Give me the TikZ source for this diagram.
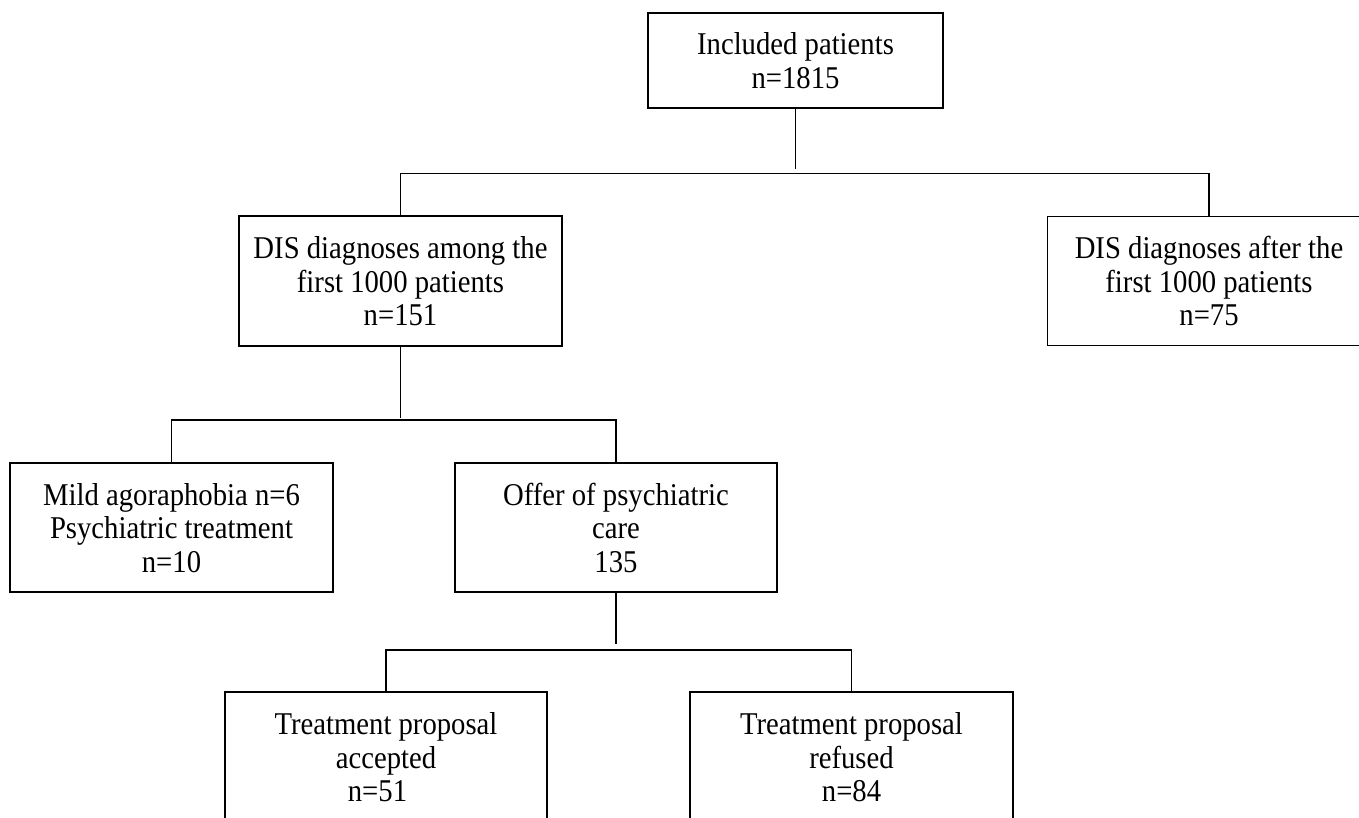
\documentclass[tikz,border=0pt]{standalone}
\usepackage{fontspec}
\setmainfont[FakeStretch=0.905]{Liberation Serif}
\newcommand\mystrut{\rule[-1.5pt]{0pt}{25pt}}
\tikzset{
  box/.style={draw=black, line width=1.8pt, rectangle, inner sep=0pt,
    align=center, font=\fontsize{31.7}{33.5}\selectfont},
  conn/.style={draw=black, line width=1.5pt}
}
\begin{document}
\begin{tikzpicture}[x=1pt,y=-1pt]
\useasboundingbox[fill=white] (0,0) rectangle (1359,817);

\node[box, minimum width=295pt, minimum height=95pt] (inc) at (795.5,60.5)
  {\mystrut Included patients\\\mystrut n=1815};
\node[box, minimum width=323pt, minimum height=130pt] (dis1) at (400.5,281)
  {\mystrut DIS diagnoses among the\\\mystrut first 1000 patients\\\mystrut n=151};
\node[box, minimum width=323pt, minimum height=129pt] (dis2) at (1209,281)
  {\mystrut DIS diagnoses after the\\\mystrut first 1000 patients\\\mystrut n=75};
\node[box, minimum width=323pt, minimum height=129pt] (mild) at (171.5,527.5)
  {\mystrut Mild agoraphobia n=6\\\mystrut Psychiatric treatment\\\mystrut n=10};
\node[box, minimum width=322pt, minimum height=129pt] (offer) at (616,527.5)
  {\mystrut Offer of psychiatric\\\mystrut care\\\mystrut 135};
\node[box, minimum width=322pt, minimum height=130pt] (acc) at (386,757)
  {\mystrut Treatment proposal\\\mystrut accepted\\\mystrut n=51\hspace*{17pt}};
\node[box, minimum width=323pt, minimum height=130pt] (ref) at (851.5,757)
  {\mystrut Treatment proposal\\\mystrut refused\\\mystrut n=84};

% level 1
\draw[conn] (inc.south) -- ++(0,60);
\draw[conn] (dis1.north) -- ++(0,-41.5) -| (dis2.north);
% level 2
\draw[conn] (dis1.south) -- ++(0,71);
\draw[conn] (mild.north) -- ++(0,-42) -| (offer.north);
% level 3
\draw[conn] (offer.south) -- ++(0,51);
\draw[conn] (acc.north) -- ++(0,-41) -| (ref.north);
\end{tikzpicture}
\end{document}
